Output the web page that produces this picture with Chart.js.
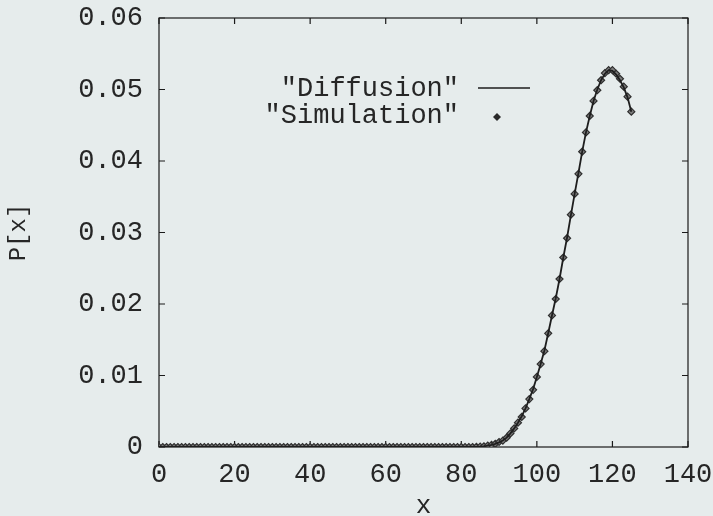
<!DOCTYPE html>
<html>
<head>
<meta charset="utf-8">
<script src="https://cdn.jsdelivr.net/npm/chart.js@4/dist/chart.umd.min.js"></script>
<style>
    html, body { margin: 0; padding: 0; background: #e6ecec; }
    #wrap { width: 713px; height: 516px; }
</style>
</head>
<body>
<div id="wrap"><canvas id="pChart" width="713" height="516"></canvas></div>
<script>
// Positions x (0..125)
var xs = [
    0, 1, 2, 3, 4, 5, 6, 7, 8, 9, 10, 11, 12, 13, 14, 15, 16, 17, 18, 19,
    20, 21, 22, 23, 24, 25, 26, 27, 28, 29, 30, 31, 32, 33, 34, 35, 36, 37, 38, 39,
    40, 41, 42, 43, 44, 45, 46, 47, 48, 49, 50, 51, 52, 53, 54, 55, 56, 57, 58, 59,
    60, 61, 62, 63, 64, 65, 66, 67, 68, 69, 70, 71, 72, 73, 74, 75, 76, 77, 78, 79,
    80, 81, 82, 83, 84, 85, 86, 87, 88, 89, 90, 91, 92, 93, 94, 95, 96, 97, 98, 99,
    100, 101, 102, 103, 104, 105, 106, 107, 108, 109, 110, 111, 112, 113, 114, 115, 116, 117, 118, 119,
    120, 121, 122, 123, 124, 125
];

// "Diffusion" - courbe theorique
var diffusion = [
    0, 0, 0, 0, 0, 0, 0, 0, 0, 0, 0, 0, 0, 0, 0, 0, 0, 0, 0, 0,
    0, 0, 0, 0, 0, 0, 0, 0, 0, 0, 0, 0, 0, 0, 0, 0, 0, 0, 0, 0,
    0, 0, 0, 0, 0, 0, 0, 0, 0, 0, 0, 0, 0, 0, 0, 0, 0, 0, 0, 0,
    0, 0, 0, 0, 0, 0, 0, 0, 0, 0, 0, 0, 0, 0, 0, 0, 0, 0, 0, 0,
    0, 0, 0, 0, 0.00002, 0.00005, 0.0001, 0.00018, 0.0003, 0.00045,
    0.00065, 0.0009, 0.0013, 0.0019, 0.0026, 0.0034, 0.0043, 0.0054, 0.0067, 0.0081,
    0.0098, 0.0116, 0.0135, 0.0159, 0.0184, 0.0208, 0.0235, 0.0265, 0.0293, 0.0324,
    0.0354, 0.0383, 0.0413, 0.0440, 0.0463, 0.0484, 0.0500, 0.0513, 0.0522, 0.0527,
    0.0526, 0.0521, 0.0513, 0.0503, 0.0489, 0.0469
];

// "Simulation" - points
var simulation = [
    0, 0, 0, 0, 0, 0, 0, 0, 0, 0, 0, 0, 0, 0, 0, 0, 0, 0, 0, 0,
    0, 0, 0, 0, 0, 0, 0, 0, 0, 0, 0, 0, 0, 0, 0, 0, 0, 0, 0, 0,
    0, 0, 0, 0, 0, 0, 0, 0, 0, 0, 0, 0, 0, 0, 0, 0, 0, 0, 0, 0,
    0, 0, 0, 0, 0, 0, 0, 0, 0, 0, 0, 0, 0, 0, 0, 0, 0, 0, 0, 0,
    0, 0, 0, 0, 0.00002, 0.00005, 0.0001, 0.0002, 0.0003, 0.00045,
    0.0007, 0.0009, 0.0013, 0.0019, 0.0026, 0.0034, 0.0042, 0.0054, 0.0067, 0.0080,
    0.0098, 0.0116, 0.0134, 0.0159, 0.0184, 0.0207, 0.0235, 0.0265, 0.0292, 0.0325,
    0.0354, 0.0382, 0.0413, 0.0440, 0.0463, 0.0484, 0.0499, 0.0513, 0.0523, 0.0527,
    0.0527, 0.0522, 0.0515, 0.0504, 0.0490, 0.0469
];

var xTicks = [0, 20, 40, 60, 80, 100, 120, 140];
var yTicks = [0, 0.01, 0.02, 0.03, 0.04, 0.05, 0.06];

var legendLabels = ['"Diffusion"', '"Simulation"'];

var fontFamily = '"Liberation Mono", "Courier New", monospace';
var inkColor = '#262626';

// Cadre + graduations vers l'interieur (style gnuplot)
var framePlugin = {
    id: 'frame',
    beforeDatasetsDraw: function(chart) {
        var c = chart.ctx;
        var a = chart.chartArea;
        var sx = chart.scales.x;
        var sy = chart.scales.y;
        var len = 6;
        c.save();
        c.strokeStyle = '#1a1a1a';
        c.lineWidth = 1.2;
        c.strokeRect(a.left, a.top, a.right - a.left, a.bottom - a.top);
        c.beginPath();
        xTicks.forEach(function(v) {
            var px = sx.getPixelForValue(v);
            c.moveTo(px, a.bottom); c.lineTo(px, a.bottom - len);
            c.moveTo(px, a.top); c.lineTo(px, a.top + len);
        });
        yTicks.forEach(function(v) {
            var py = sy.getPixelForValue(v);
            c.moveTo(a.left, py); c.lineTo(a.left + len, py);
            c.moveTo(a.right, py); c.lineTo(a.right - len, py);
        });
        c.stroke();
        c.restore();
    }
};

// Legende a la gnuplot : texte aligne a droite, echantillon a droite
var legendPlugin = {
    id: 'gpLegend',
    afterDatasetsDraw: function(chart) {
        var c = chart.ctx;
        c.save();
        c.font = '27px ' + fontFamily;
        c.fillStyle = inkColor;
        c.textAlign = 'right';
        c.textBaseline = 'middle';
        c.fillText(legendLabels[0], 459, 89);
        c.fillText(legendLabels[1], 459, 116);
        c.strokeStyle = '#1e1e1e';
        c.lineWidth = 1.6;
        c.beginPath();
        c.moveTo(478, 88);
        c.lineTo(530, 88);
        c.stroke();
        c.fillStyle = '#2a2a2a';
        c.beginPath();
        c.moveTo(497, 113);
        c.lineTo(501, 117);
        c.lineTo(497, 121);
        c.lineTo(493, 117);
        c.closePath();
        c.fill();
        c.restore();
    }
};

var ctx = document.getElementById('pChart').getContext('2d');
var chartInstance = new Chart(ctx, {
    type: 'line',
    data: {
        datasets: [{
            label: legendLabels[0],
            data: xs.map(function(x, i) { return { x: x, y: diffusion[i] }; }),
            borderColor: '#1e1e1e',
            borderWidth: 1.8,
            pointRadius: 0,
            tension: 0,
            fill: false
        }, {
            label: legendLabels[1],
            data: xs.map(function(x, i) { return { x: x, y: simulation[i] }; }),
            showLine: false,
            pointStyle: 'rectRot',
            pointRadius: 3.5,
            pointBorderWidth: 1.2,
            pointBorderColor: '#2e2e2e',
            pointBackgroundColor: '#7d7d7d'
        }]
    },
    options: {
        responsive: false,
        animation: false,
        layout: { padding: { top: 18, right: 25, left: 0, bottom: 0 } },
        plugins: {
            legend: { display: false },
            tooltip: { enabled: false }
        },
        scales: {
            x: {
                type: 'linear',
                min: 0,
                max: 140,
                afterBuildTicks: function(scale) {
                    scale.ticks = xTicks.map(function(v) { return { value: v }; });
                },
                afterFit: function(scale) {
                    scale.height = 69;
                    scale.paddingLeft = 0;
                    scale.paddingRight = 0;
                },
                grid: { display: false, drawTicks: false },
                border: { display: false },
                ticks: {
                    font: { family: fontFamily, size: 27 },
                    color: inkColor,
                    padding: 12,
                    maxRotation: 0
                },
                title: {
                    display: true,
                    text: 'x',
                    font: { family: fontFamily, size: 26 },
                    color: inkColor,
                    padding: { top: 0, bottom: -6 }
                }
            },
            y: {
                type: 'linear',
                min: 0,
                max: 0.06,
                afterBuildTicks: function(scale) {
                    scale.ticks = yTicks.map(function(v) { return { value: v }; });
                },
                afterFit: function(scale) {
                    scale.width = 159;
                    scale.paddingTop = 0;
                    scale.paddingBottom = 0;
                },
                grid: { display: false, drawTicks: false },
                border: { display: false },
                ticks: {
                    font: { family: fontFamily, size: 27 },
                    color: inkColor,
                    padding: 16,
                    callback: function(v) { return v === 0 ? '0' : v.toFixed(2); }
                },
                title: {
                    display: true,
                    text: 'P[x]',
                    font: { family: fontFamily, size: 24 },
                    color: inkColor,
                    padding: { top: 4, bottom: 4 }
                }
            }
        }
    },
    plugins: [framePlugin, legendPlugin]
});
</script>
</body>
</html>
